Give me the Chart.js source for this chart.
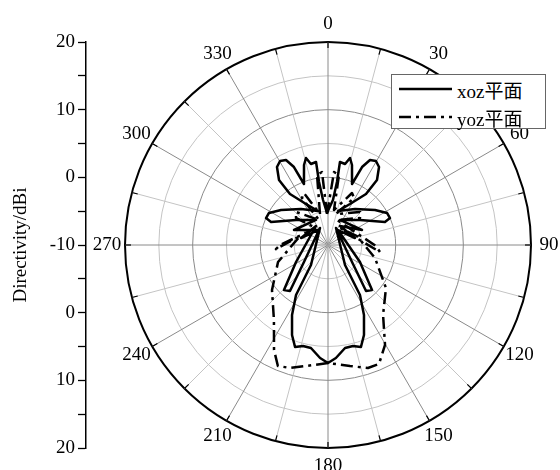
<!DOCTYPE html>
<html>
<head>
<meta charset="utf-8">
<script src="https://cdn.jsdelivr.net/npm/chart.js"></script>
<style>
  body { margin: 0; background: #fff; }
  #wrap { position: relative; width: 560px; height: 470px; }
  #wrap canvas { position: absolute; left: 0; top: 0; }
  #legend { position: absolute; left: 391px; top: 74px; width: 153px; height: 53px;
            border: 1px solid #666; background: #fff;
            font: 19px "Liberation Serif", "Noto Sans CJK SC", serif; color: #000; }
  #legend .row { position: absolute; left: 7px; height: 22px; display: flex; align-items: center; white-space: nowrap; }
  #legend svg { margin-right: 5px; }
</style>
</head>
<body>
<div id="wrap">
  <canvas id="axisChart" width="560" height="470"></canvas>
  <canvas id="polarChart" width="560" height="470"></canvas>
  <div id="legend"></div>
</div>
<script>
// angle grid (deg), labelled every 30
var angleTicks = [0, 15, 30, 45, 60, 75, 90, 105, 120, 135, 150, 165,
                  180, 195, 210, 225, 240, 255, 270, 285, 300, 315, 330, 345];
var rMin = -10, rMax = 20;

// xoz plane: angle (deg) / directivity (dBi)
var xozAngle = [358.2, 6.3, 8.1, 8.2, 11.9, 14.2, 16.7, 21.5, 23.6, 26.3, 29.7, 33.2, 37.0, 36.7, 28.2, 16.4,
                36.9, 53.3, 61.5, 66.5, 68.0, 52.0, 25.6, 66.2, 32.3, 75.5, 33.7,
                118.0, 135.6, 140.4, 125.3, 25.2,
                139.6, 147.4, 152.8, 158.2, 162.1, 166.1, 170.6, 176.0, 180, 184.0, 189.4, 193.9, 197.9, 201.8, 207.2, 212.6, 220.4, 334.8,
                234.7, 219.6, 224.4, 242.0, 327.7, 284.5, 326.3, 293.8, 334.4,
                308.0, 292.0, 293.5, 298.5, 306.7, 323.1, 343.6,
                331.8, 323.3, 323.0, 326.8, 330.3, 333.7, 336.4, 338.5,
                343.3, 345.8, 348.1, 351.8, 351.9, 353.7, 358.2];
var xozGain = [-5.27, -3.31, -0.60, 2.39, 2.23, 3.26, 2.34, -0.31, 2.57, 4.01, 4.30, 3.77, 2.03, -0.60, -3.12, -4.76,
               -3.35, -1.34, -0.08, -0.01, -0.92, -4.0, -5.90, -4.51, -6.68, -5.88, -7.34,
               -4.65, -0.70, -1.18, -5.65, -7.22,
               -6.12, -1.23, 1.63, 4.32, 5.84, 5.37, 5.43, 6.74, 7.44, 6.74, 5.43, 5.37, 5.84, 4.32, 1.63, -1.23, -6.12, -7.22,
               -5.65, -1.18, -0.70, -4.65, -6.68, -5.88, -7.34, -4.51, -5.90,
               -4.0, -0.92, -0.01, -0.08, -1.34, -3.35, -4.76,
               -3.12, -0.60, 2.03, 3.77, 4.30, 4.01, 2.57, -0.31,
               2.34, 3.26, 2.23, 2.39, -0.60, -3.31, -5.27];

// yoz plane
var yozAngle = [358.2, 4.7, 8.9, 9.7, 24.8, 29.0, 14.5, 44.1, 49.8, 19.8, 91.2, 97.7, 35.2,
                72.8, 105.5, 126.6, 141.8, 150.3, 156.8, 162.0, 169.7, 180, 190.3, 197.2, 202.5, 207.2, 215.8, 231.2, 251.2, 287.8,
                265.5, 270, 324.8, 310.2, 315.9, 340.2, 331.0, 335.2, 345.5, 351.1, 355.3, 358.2];
var yozGain = [-5.42, 0.82, 0.47, -4.75, -1.54, -2.06, -5.27, -3.21, -3.81, -6.07, -2.91, -2.25, -6.93,
               -5.51, -2.79, 0.67, 3.16, 7.01, 9.13, 9.11, 8.18, 7.44, 8.18, 9.02, 9.35, 7.45, 3.66, 0.62, -2.20, -5.65,
               -2.28, -2.91, -6.93, -3.81, -3.21, -6.07, -2.06, -1.54, -5.27, 0.47, 0.82, -5.42];

Chart.defaults.font.family = '"Liberation Serif", "Noto Sans CJK SC", serif';
Chart.defaults.font.size = 19;
Chart.defaults.color = '#000';

function toXY(angles, gains) {
    return angles.map(function (a, i) {
        var t = a * Math.PI / 180, rr = gains[i] - rMin;
        return { x: rr * Math.sin(t), y: rr * Math.cos(t) };
    });
}

// angle numbers outside the rim plus short rim ticks
var rimPlugin = {
    id: 'rim',
    afterDraw: function (chart) {
        var r = chart.scales.r, ctx = chart.ctx;
        ctx.save();
        ctx.strokeStyle = '#000';
        ctx.lineWidth = 1.2;
        angleTicks.forEach(function (a, i) {
            var p1 = r.getPointPosition(i, r.drawingArea - 6);
            var p2 = r.getPointPosition(i, r.drawingArea);
            ctx.beginPath();
            ctx.moveTo(p1.x, p1.y);
            ctx.lineTo(p2.x, p2.y);
            ctx.stroke();
        });
        ctx.font = '19px "Liberation Serif"';
        ctx.fillStyle = '#000';
        ctx.textAlign = 'center';
        ctx.textBaseline = 'middle';
        angleTicks.forEach(function (a, i) {
            if (a % 30 !== 0) return;
            var p = r.getPointPosition(i, r.drawingArea + 18);
            ctx.fillText(String(a), p.x, p.y);
        });
        ctx.restore();
    }
};

document.addEventListener('DOMContentLoaded', function () {
    // left axis: runs rMax -> rMin (centre) -> rMax again
    new Chart(document.getElementById('axisChart'), {
        type: 'scatter',
        data: { datasets: [] },
        options: {
            responsive: false,
            animation: false,
            layout: { padding: { left: 0, right: 460, top: 42, bottom: 22 } },
            plugins: { legend: { display: false }, tooltip: { enabled: false } },
            scales: {
                x: { display: false, min: 0, max: 1 },
                y: {
                    position: 'left',
                    min: 2 * rMin - rMax, max: rMax,
                    afterFit: function (s) { s.width = 86; },
                    ticks: {
                        stepSize: 5,
                        autoSkip: false,
                        padding: 3,
                        callback: function (v) {
                            if (v % 10 !== 0) return '';
                            return String(v >= rMin ? v : 2 * rMin - v);
                        }
                    },
                    grid: { drawOnChartArea: false, tickLength: 8, color: '#000', tickWidth: 1.3 },
                    border: { color: '#000', width: 1.5 },
                    title: { display: true, text: 'Directivity/dBi', padding: { top: 10, bottom: 0 } }
                }
            }
        }
    });

    var polarChart = new Chart(document.getElementById('polarChart'), {
        type: 'scatter',
        data: {
            labels: angleTicks,
            datasets: [{
                label: 'xoz平面',
                data: toXY(xozAngle, xozGain),
                showLine: true,
                borderColor: '#000',
                borderWidth: 2.5,
                borderJoinStyle: 'round',
                pointRadius: 0,
                fill: false
            }, {
                label: 'yoz平面',
                data: toXY(yozAngle, yozGain),
                showLine: true,
                borderColor: '#000',
                borderWidth: 2.5,
                borderDash: [12, 5, 3, 5],
                borderJoinStyle: 'round',
                pointRadius: 0,
                fill: false
            }]
        },
        options: {
            responsive: false,
            animation: false,
            layout: { padding: { left: 125, right: 29, top: 42, bottom: 22 } },
            plugins: { legend: { display: false }, tooltip: { enabled: false } },
            scales: {
                x: { display: false, min: -(rMax - rMin), max: rMax - rMin },
                y: { display: false, min: -(rMax - rMin), max: rMax - rMin },
                r: {
                    type: 'radialLinear',
                    min: rMin,
                    max: rMax,
                    startAngle: 0,
                    ticks: { display: false, stepSize: 5 },
                    pointLabels: { display: false },
                    grid: {
                        circular: true,
                        color: function (c) {
                            var v = c.tick.value;
                            if (v === rMax) return '#000';
                            return v % 10 === 0 ? '#8a8a8a' : '#c4c4c4';
                        },
                        lineWidth: function (c) { return c.tick.value === rMax ? 2 : 1; }
                    },
                    angleLines: {
                        color: function (c) { return c.index % 2 === 0 ? '#8a8a8a' : '#c4c4c4'; },
                        lineWidth: 1
                    }
                }
            }
        },
        plugins: [rimPlugin]
    });

    // legend box built from the datasets
    var legend = document.getElementById('legend');
    polarChart.data.datasets.forEach(function (ds, i) {
        var row = document.createElement('div');
        row.className = 'row';
        row.style.top = (3 + i * 28) + 'px';
        var dash = ds.borderDash ? ' stroke-dasharray="' + ds.borderDash.join(' ') + '"' : '';
        row.innerHTML = '<svg width="53" height="6"><line x1="0" y1="3" x2="53" y2="3" stroke="#000" stroke-width="2.5"' + dash + '/></svg><span>' + ds.label + '</span>';
        legend.appendChild(row);
    });
});
</script>
</body>
</html>
